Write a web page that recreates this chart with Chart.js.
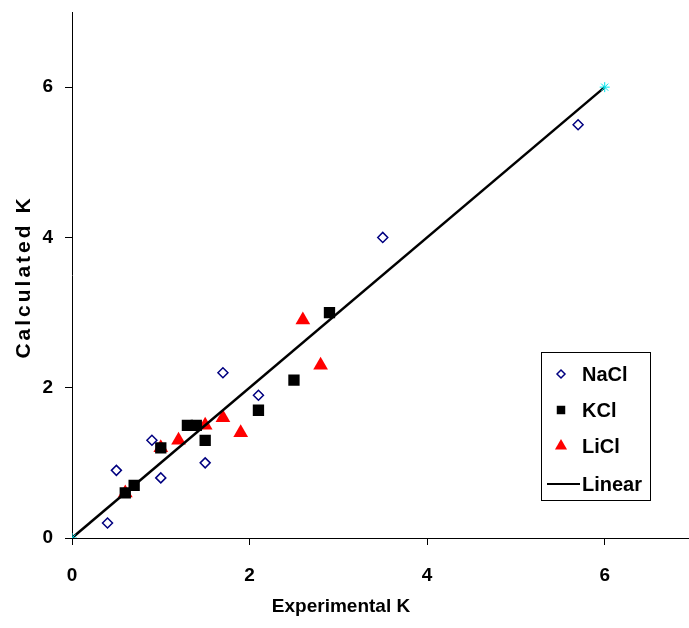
<!DOCTYPE html>
<html>
<head>
<meta charset="utf-8">
<script src="https://cdn.jsdelivr.net/npm/chart.js@4.4.1/dist/chart.umd.min.js"></script>
<style>
  html, body { margin: 0; padding: 0; background: #fff; overflow: hidden; }
  #wrap { width: 689px; height: 628px; overflow: hidden; }
</style>
</head>
<body>
<div id="wrap"><canvas id="myChart" width="702" height="628"></canvas></div>
<script>
// experimental vs calculated K for each salt
const naclExp = [0.4, 0.5, 0.9, 1.0, 1.5, 1.7, 2.1, 3.5, 5.7];
const naclCalc = [0.2, 0.9, 1.3, 0.8, 1.0, 2.2, 1.9, 4.0, 5.5];
const kclExp = [0.6, 0.7, 1.0, 1.3, 1.4, 1.5, 2.1, 2.5, 2.9];
const kclCalc = [0.6, 0.7, 1.2, 1.5, 1.5, 1.3, 1.7, 2.1, 3.0];
const liclExp = [0.6, 1.0, 1.2, 1.5, 1.7, 1.9, 2.6, 2.8];
const liclCalc = [0.6, 1.2, 1.3, 1.5, 1.6, 1.4, 2.9, 2.3];
const linearX = [0, 6];
const linearY = [0, 6];
const axisMin = 0;
const axisMax = 7;
const tickStep = 2;

const toPoints = (xs, ys) => xs.map((x, i) => ({ x: x, y: ys[i] }));

const FONT = "'Liberation Sans', Arial, sans-serif";

// legend drawn inside the plot, boxed like the original
const boxLegend = {
  id: "boxLegend",
  afterDraw(chart) {
    const ctx = chart.ctx;
    const left = 541, top = 352, w = 109, h = 148;
    ctx.save();
    ctx.strokeStyle = "#000";
    ctx.lineWidth = 1;
    ctx.strokeRect(left + 0.5, top + 0.5, w, h);
    ctx.font = "bold 20px " + FONT;
    ctx.textBaseline = "middle";
    ctx.fillStyle = "#000";
    const rows = [374, 410, 446, 484];
    const sizes = [4, 6, 7];
    chart.data.datasets.forEach((ds, i) => {
      const y = rows[i];
      if (ds.type === "line") {
        ctx.strokeStyle = ds.borderColor;
        ctx.lineWidth = 2;
        ctx.beginPath();
        ctx.moveTo(547, y);
        ctx.lineTo(580, y);
        ctx.stroke();
      } else {
        ctx.fillStyle = ds.backgroundColor;
        ctx.strokeStyle = ds.borderColor;
        ctx.lineWidth = ds.borderWidth;
        Chart.helpers.drawPoint(ctx, {
          pointStyle: ds.pointStyle,
          radius: sizes[i],
          rotation: 0,
          borderWidth: ds.borderWidth,
        }, 561, y);
      }
      ctx.fillStyle = "#000";
      ctx.fillText(ds.label, 582, y + 1);
    });
    ctx.restore();
  },
};

// axis titles placed where the original has them
const axisTitles = {
  id: "axisTitles",
  afterDraw(chart) {
    const ctx = chart.ctx;
    ctx.save();
    ctx.fillStyle = "#000";
    ctx.font = "bold 19px " + FONT;
    ctx.textAlign = "center";
    ctx.textBaseline = "middle";
    ctx.fillText("Experimental K", 341, 607);
    ctx.translate(24, 277);
    ctx.rotate(-Math.PI / 2);
    ctx.font = "bold 21px " + FONT;
    ctx.letterSpacing = "3px";
    ctx.fillText("Calculated K", 0, 0);
    ctx.restore();
  },
};

const noPad = (scale) => {
  scale.paddingTop = 0;
  scale.paddingBottom = 0;
  scale.paddingLeft = 0;
  scale.paddingRight = 0;
};

const axisStyle = {
  type: "linear",
  min: axisMin,
  max: axisMax,
  border: { display: true, color: "#000", width: 1 },
  grid: { drawOnChartArea: false, drawTicks: true, tickLength: 7, color: "#000" },
  ticks: {
    stepSize: tickStep,
    includeBounds: false,
    color: "#000",
    font: { family: FONT, size: 19, weight: "bold" },
  },
};

const ctx = document.getElementById("myChart").getContext("2d");
new Chart(ctx, {
  type: "scatter",
  data: {
    datasets: [
      {
        label: "NaCl",
        data: toPoints(naclExp, naclCalc),
        pointStyle: "rectRot",
        pointRadius: 5,
        backgroundColor: "#fff",
        borderColor: "#000080",
        borderWidth: 1.5,
        order: 1,
      },
      {
        label: "KCl",
        data: toPoints(kclExp, kclCalc),
        pointStyle: "rect",
        pointRadius: 8,
        backgroundColor: "#000",
        borderColor: "#000",
        borderWidth: 0,
        order: 1,
      },
      {
        label: "LiCl",
        data: toPoints(liclExp, liclCalc),
        pointStyle: "triangle",
        pointRadius: 8.5,
        backgroundColor: "#ff0000",
        borderColor: "#ff0000",
        borderWidth: 0,
        order: 1,
      },
      {
        label: "Linear",
        type: "line",
        data: toPoints(linearX, linearY),
        borderColor: "#000",
        borderWidth: 2.5,
        pointStyle: "star",
        pointRadius: 5,
        pointBorderColor: "#00e5ee",
        pointBackgroundColor: "#00e5ee",
        pointBorderWidth: 1,
        order: 0,
      },
    ],
  },
  options: {
    responsive: false,
    animation: false,
    layout: { padding: { top: 12, right: 0, left: 0, bottom: 0 } },
    plugins: { legend: { display: false }, tooltip: { enabled: false } },
    scales: {
      x: Object.assign({}, axisStyle, {
        ticks: Object.assign({}, axisStyle.ticks, { padding: 19 }),
        afterFit: (scale) => { scale.height = 90; noPad(scale); },
      }),
      y: Object.assign({}, axisStyle, {
        ticks: Object.assign({}, axisStyle.ticks, { padding: 12 }),
        afterFit: (scale) => { scale.width = 72; noPad(scale); },
      }),
    },
  },
  plugins: [boxLegend, axisTitles],
});
</script>
</body>
</html>
